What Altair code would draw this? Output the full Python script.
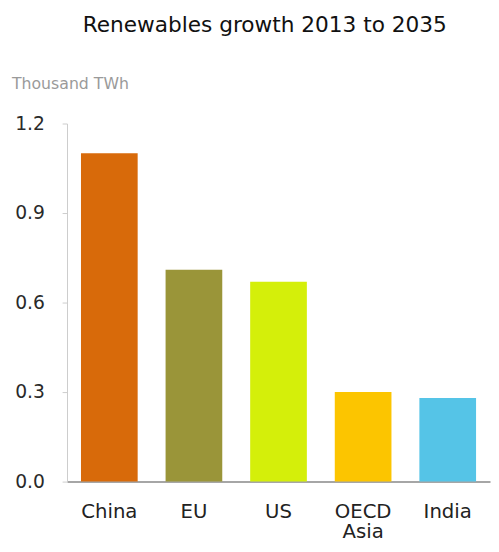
import altair as alt
import pandas as pd

regions = ["China", "EU", "US", "OECD Asia", "India"]
values = [1.10, 0.71, 0.67, 0.30, 0.28]
colors = ["#D86A0A", "#9A9539", "#D4EF0A", "#FCC500", "#55C4E7"]

df = pd.DataFrame({"region": regions, "value": values})

FONT = "DejaVu Sans"

bars = alt.Chart(df).mark_bar().encode(
    x=alt.X("region:N", sort=regions,
            scale=alt.Scale(paddingInner=0.33, paddingOuter=0.165),
            axis=alt.Axis(title=None, labelAngle=0, labelFontSize=20, labelFont=FONT,
                          labelColor="#222222", labelPadding=20, ticks=False,
                          domainColor="#888888", domainWidth=1.5,
                          labelLineHeight=21, labelBaseline="top",
                          labelExpr="datum.label == 'OECD Asia' ? ['OECD', 'Asia'] : datum.label")),
    y=alt.Y("value:Q", scale=alt.Scale(domain=[0, 1.2], nice=False),
            axis=alt.Axis(title=None, values=[0, 0.3, 0.6, 0.9, 1.2], format=".1f",
                          labelFontSize=19, labelFont=FONT, labelColor="#2a2a2a",
                          labelPadding=18, tickSize=5, tickColor="#cccccc",
                          domainColor="#cccccc", grid=False)),
    color=alt.Color("region:N", sort=regions,
                    scale=alt.Scale(domain=regions, range=colors), legend=None),
)

unit = alt.Chart(pd.DataFrame({"t": ["Thousand TWh"]})).mark_text(
    align="left", baseline="alphabetic", fontSize=16, font=FONT, color="#9a9a9a"
).encode(text="t:N", x=alt.value(-56), y=alt.value(-35))

chart = alt.layer(bars, unit).properties(
    width=430, height=364,
    title=alt.TitleParams("Renewables growth 2013 to 2035", fontSize=22, font=FONT,
                          fontWeight="normal", color="#111111", anchor="middle",
                          dx=-14, offset=40),
    autosize=alt.AutoSizeParams(type="none"),
    padding={"left": 60, "top": 113, "right": 1, "bottom": 59},
).configure_view(stroke=None)

chart.save("out.html", embed_options={"renderer": "svg", "actions": False})
